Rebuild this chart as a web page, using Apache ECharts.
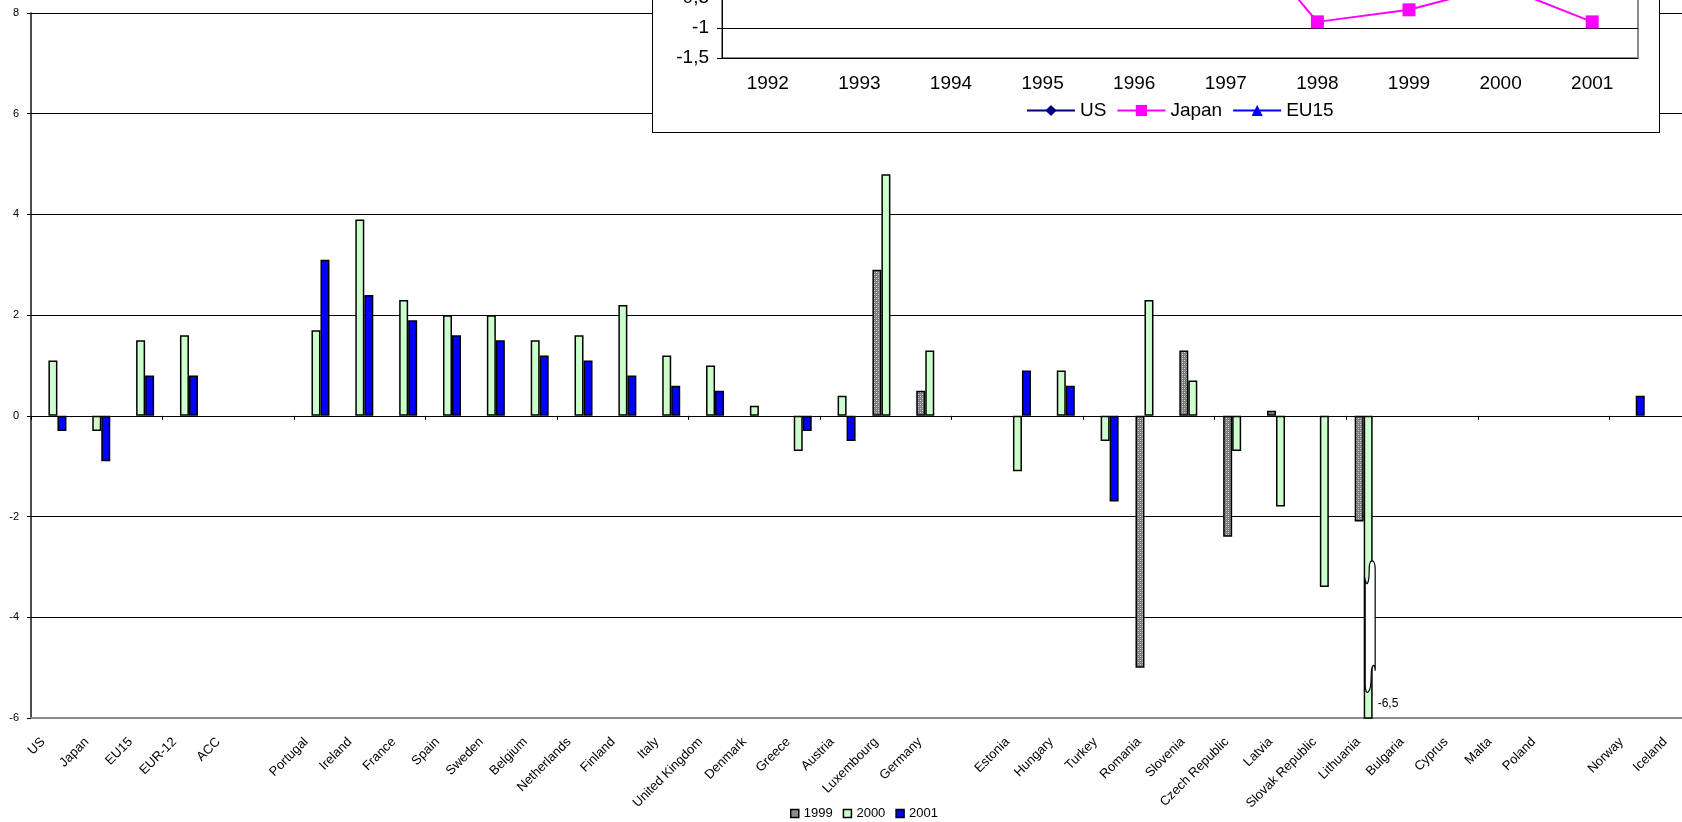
<!DOCTYPE html>
<html>
<head>
<meta charset="utf-8">
<script src="https://cdn.jsdelivr.net/npm/echarts@6/dist/echarts.min.js"></script>
<style>
  html, body { margin: 0; padding: 0; background: #fff; overflow: hidden; }
  #main { position: absolute; left: 0; top: 0; width: 1682px; height: 822px; }
  #inset { position: absolute; left: 652px; top: -262px; width: 1006px; height: 393px;
           border: 1px solid #000; background: #fff; }
</style>
</head>
<body>
<div id="main"></div>
<div id="inset"></div>
<script>
// ---- country bars: change by year ----
const countries = ['US', 'Japan', 'EU15', 'EUR-12', 'ACC', ' ',
  'Portugal', 'Ireland', 'France', 'Spain', 'Sweden', 'Belgium', 'Netherlands', 'Finland',
  'Italy', 'United Kingdom', 'Denmark', 'Greece', 'Austria', 'Luxembourg', 'Germany', '  ',
  'Estonia', 'Hungary', 'Turkey', 'Romania', 'Slovenia', 'Czech Republic', 'Latvia',
  'Slovak Republic', 'Lithuania', 'Bulgaria', 'Cyprus', 'Malta', 'Poland', '   ',
  'Norway', 'Iceland'];

const v1999 = [null, null, null, null, null, null,
  null, null, null, null, null, null, null, null,
  null, null, null, null, null, 2.9, 0.5, null,
  null, null, null, -5.0, 1.3, -2.4, 0.1,
  null, -2.1, null, null, null, null, null,
  null, null];

const v2000 = [1.1, -0.3, 1.5, 1.6, null, null,
  1.7, 3.9, 2.3, 2.0, 2.0, 1.5, 1.6, 2.2,
  1.2, 1.0, 0.2, -0.7, 0.4, 4.8, 1.3, null,
  -1.1, 0.9, -0.5, 2.3, 0.7, -0.7, -1.8,
  -3.4, -6.5, null, null, null, null, null,
  null, null];

const v2001 = [-0.3, -0.9, 0.8, 0.8, null, null,
  3.1, 2.4, 1.9, 1.6, 1.5, 1.2, 1.1, 0.8,
  0.6, 0.5, null, -0.3, -0.5, null, null, null,
  0.9, 0.6, -1.7, null, null, null, null,
  null, null, null, null, null, null, null,
  0.4, null];

const yTicks = [-6, -4, -2, 0, 2, 4, 6, 8];
// axis break drawn across the Lithuania 2000 bar: [category, from, to]
const axisBreak = [['Lithuania', -2.9, -5.5]];

// ---- small time series panel ----
const years = ['1992', '1993', '1994', '1995', '1996', '1997', '1998', '1999', '2000', '2001'];
const usLine    = [0.2, 0.8, 1.3, 0.6, 0.5, 1.0, 0.9, 0.6, 1.1, -0.3];
const japanLine = [0.5, 0.1, -0.1, -0.2, 0.3, 0.9, -0.9, -0.7, -0.3, -0.9];
const eu15Line  = [0.0, -0.3, -0.2, 0.3, 0.2, 0.4, 0.9, 1.1, 1.5, 0.8];

const FONT = '"Liberation Sans", Arial, sans-serif';
const comma = v => String(v).replace('.', ',');

// speckled grey fill for the 1999 bars
function speckle() {
  const c = document.createElement('canvas');
  c.width = 4; c.height = 4;
  const g = c.getContext('2d');
  g.fillStyle = '#7c7c7c'; g.fillRect(0, 0, 4, 4);
  g.fillStyle = '#d6d6d6'; g.fillRect(0, 0, 1, 1); g.fillRect(2, 2, 1, 1);
  g.fillStyle = '#a8a8a8'; g.fillRect(2, 0, 1, 1); g.fillRect(0, 2, 1, 1);
  return c;
}

const barBorder = { borderColor: '#000', borderWidth: 1.5 };

const main = echarts.init(document.getElementById('main'));
main.setOption({
  animation: false,
  textStyle: { fontFamily: FONT, color: '#000' },
  grid: { left: 31, top: 13, width: 1666, height: 705, containLabel: false, outerBoundsMode: 'none' },
  xAxis: [
    {
      type: 'category', data: countries,
      axisLine: { onZero: true, lineStyle: { color: '#000', width: 1 } },
      axisTick: { show: true, length: 4, lineStyle: { color: '#000' } },
      axisLabel: { show: false },
      splitLine: { show: false }
    },
    {
      type: 'category', data: countries, position: 'bottom',
      axisLine: { onZero: false, lineStyle: { color: '#8a8a8a', width: 2 } },
      axisTick: { show: false },
      axisLabel: { interval: 0, rotate: 45, margin: 12, padding: [0, 14, 0, 0],
                   fontSize: 13, color: '#000', fontFamily: FONT },
      splitLine: { show: false }
    }
  ],
  yAxis: {
    type: 'value', min: yTicks[0], max: yTicks[yTicks.length - 1], interval: 2,
    axisLine: { show: true, lineStyle: { color: '#111', width: 1.5 } },
    axisTick: { show: true, length: 4, lineStyle: { color: '#000' } },
    axisLabel: { fontSize: 11, margin: 12, color: '#000', fontFamily: FONT },
    splitLine: { show: true, lineStyle: { color: '#000', width: 1 } }
  },
  legend: {
    data: ['1999', '2000', '2001'],
    left: 785, top: 802,
    itemWidth: 8, itemHeight: 8, itemGap: 10,
    icon: 'rect',
    itemStyle: { borderColor: '#000', borderWidth: 1.5 },
    textStyle: { fontSize: 13, color: '#000', fontFamily: FONT }
  },
  series: [
    {
      name: '1999', type: 'bar', data: v1999, barWidth: 9, barGap: '0%',
      itemStyle: Object.assign({ color: { image: speckle(), repeat: 'repeat' } }, barBorder)
    },
    {
      name: '2000', type: 'bar', data: v2000.map((v, i) => countries[i] === 'Lithuania'
        ? { value: v, label: { show: true, position: ['100%', '100%'], offset: [5, -21],
            fontSize: 12, color: '#000', fontFamily: FONT, formatter: p => comma(p.value) } }
        : v),
      barWidth: 9, barGap: '0%',
      itemStyle: Object.assign({ color: '#ccffcc' }, barBorder)
    },
    {
      name: '2001', type: 'bar', data: v2001, barWidth: 9, barGap: '0%',
      itemStyle: Object.assign({ color: '#0000ff' }, barBorder)
    },
    {
      type: 'custom', z: 5, silent: true,
      data: axisBreak,
      renderItem: function (params, api) {
        const cat = api.value(0);
        const p1 = api.coord([cat, api.value(1)]);
        const p2 = api.coord([cat, api.value(2)]);
        const cx = p1[0];
        const L = cx - 3, R = cx + 7;
        const t = p1[1], b = p2[1];
        const d =
          'M' + L + ' ' + (t + 18) +
          ' C' + (L + 2) + ' ' + (t + 26) + ' ' + (L + 4) + ' ' + (t + 20) + ' ' + (L + 4) + ' ' + (t + 8) +
          ' C' + (L + 4) + ' ' + (t - 4) + ' ' + R + ' ' + (t - 4) + ' ' + R + ' ' + (t + 8) +
          ' L' + R + ' ' + (b - 22) +
          ' C' + R + ' ' + (b - 30) + ' ' + (R - 4) + ' ' + (b - 30) + ' ' + (R - 4) + ' ' + (b - 16) +
          ' C' + (R - 4) + ' ' + (b + 2) + ' ' + L + ' ' + (b + 4) + ' ' + L + ' ' + (b - 8) + ' Z';
        return {
          type: 'path',
          shape: { pathData: d },
          style: { fill: '#fff', stroke: '#000', lineWidth: 1.2 }
        };
      }
    }
  ]
});

const inset = echarts.init(document.getElementById('inset'));
inset.setOption({
  animation: false,
  textStyle: { fontFamily: FONT, color: '#000' },
  grid: { left: 69, top: 18, width: 916, height: 301, show: true, outerBoundsMode: 'none',
          borderColor: '#8a8a8a', borderWidth: 2, backgroundColor: '#fff' },
  xAxis: {
    type: 'category', data: years,
    axisLine: { show: false }, axisTick: { show: false },
    axisLabel: { fontSize: 19, margin: 16, color: '#000', fontFamily: FONT }
  },
  yAxis: {
    type: 'value', min: -1.5, max: 3.5, interval: 0.5,
    axisLine: { show: true, lineStyle: { color: '#000', width: 1 } },
    axisTick: { show: true, length: 5, lineStyle: { color: '#000' } },
    axisLabel: { fontSize: 19, margin: 13, color: '#000', fontFamily: FONT, formatter: comma },
    splitLine: { show: true, lineStyle: { color: '#000', width: 1 } }
  },
  legend: {
    data: ['US', 'Japan', 'EU15'],
    left: 368, top: 357,
    itemWidth: 48, itemHeight: 14, itemGap: 10,
    textStyle: { fontSize: 19, color: '#000', fontFamily: FONT }
  },
  series: [
    { name: 'US', type: 'line', data: usLine, symbol: 'diamond', symbolSize: 13,
      lineStyle: { color: '#000080', width: 2 }, itemStyle: { color: '#000080' } },
    { name: 'Japan', type: 'line', data: japanLine, symbol: 'rect', symbolSize: 13,
      lineStyle: { color: '#ff00ff', width: 2 }, itemStyle: { color: '#ff00ff' } },
    { name: 'EU15', type: 'line', data: eu15Line, symbol: 'triangle', symbolSize: 13,
      lineStyle: { color: '#0000ff', width: 2 }, itemStyle: { color: '#0000ff' } }
  ]
});
</script>
</body>
</html>
